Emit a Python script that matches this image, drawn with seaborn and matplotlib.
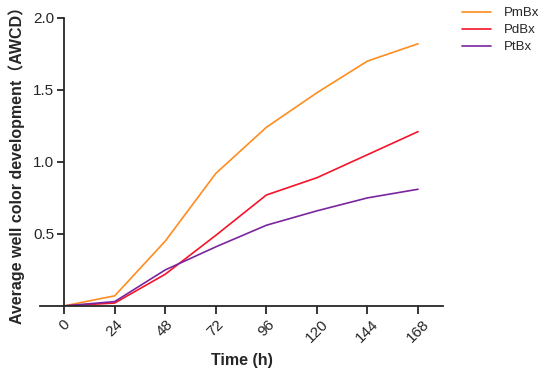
import pandas as pd
import matplotlib
matplotlib.use('Agg')
import matplotlib.pyplot as plt
import seaborn as sns

sns.set_style('ticks')
plt.rcParams['font.family'] = ['Liberation Sans', 'Noto Sans CJK SC', 'DejaVu Sans']

# data
hours = [0, 24, 48, 72, 96, 120, 144, 168]
pmbx = [0.00, 0.07, 0.45, 0.92, 1.24, 1.48, 1.70, 1.82]
pdbx = [0.00, 0.02, 0.22, 0.49, 0.77, 0.89, 1.05, 1.21]
ptbx = [0.00, 0.03, 0.25, 0.41, 0.56, 0.66, 0.75, 0.81]
groups = ['PmBx', 'PdBx', 'PtBx']
colors = {'PmBx': '#FF8C1F', 'PdBx': '#F5142B', 'PtBx': '#7A259E'}

df = pd.DataFrame({
    'Time': hours * 3,
    'AWCD': pmbx + pdbx + ptbx,
    'Group': [g for g in groups for _ in hours],
})

fig = plt.figure(figsize=(5.5, 3.8), dpi=100)
ax = fig.add_axes([0.073, 0.195, 0.733, 0.758])
sns.lineplot(data=df, x='Time', y='AWCD', hue='Group', palette=colors,
             linewidth=1.2, ax=ax, legend=False)

ax.set_xlim(-11.4, 180)
ax.set_ylim(0, 2.0)
ax.spines['left'].set_position(('data', 0))
ax.spines['top'].set_visible(False)
ax.spines['right'].set_visible(False)
for s in ['left', 'bottom']:
    ax.spines[s].set_linewidth(1.3)

ax.set_xticks(hours)
ax.set_xticklabels([str(h) for h in hours], rotation=45, fontsize=11)
ax.set_yticks([0.5, 1.0, 1.5, 2.0])
ax.set_yticklabels(['0.5', '1.0', '1.5', '2.0'], fontsize=11)
ax.tick_params(axis='x', length=6, width=1.3, pad=2)
ax.tick_params(axis='y', length=5, width=1.3, pad=2)

ax.set_xlabel('Time (h)', fontsize=11.5, fontweight='bold', labelpad=6)
ax.set_ylabel('Average well color development（AWCD）', fontsize=11.5,
              fontweight='bold', labelpad=4)
ax.yaxis.set_label_coords(-0.037, 0.5)

handles = [plt.Line2D([], [], color=colors[g], linewidth=1.2) for g in groups]
fig.legend(handles, groups, loc='upper left', bbox_to_anchor=(0.83, 0.995),
           frameon=False, fontsize=9.5, handlelength=2.2, labelspacing=0.35,
           handletextpad=1.0, borderaxespad=0)

fig.savefig('out.png', dpi=100)
